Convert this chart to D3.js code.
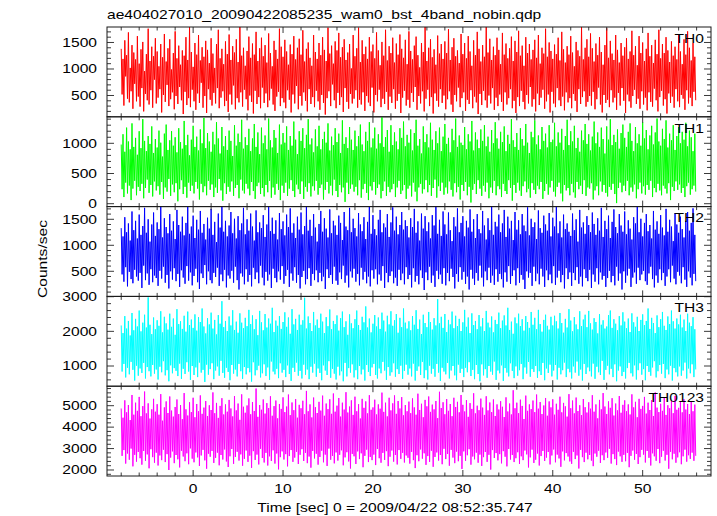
<!DOCTYPE html>
<html><head><meta charset="utf-8">
<script src="https://cdn.jsdelivr.net/npm/d3@7"></script>
<style>body{margin:0;background:#fff}svg{display:block}text{font-family:"Liberation Sans",Arial,sans-serif;fill:#000}</style>
</head><body><svg id="c" width="717" height="516"></svg>
<script>
const title = "ae404027010_20090422085235_wam0_bst_4band_nobin.qdp";
const xLabel = "Time [sec] 0 = 2009/04/22 08:52:35.747";
const yLabel = "Counts/sec";
const tStart = -8, tStep = 0.1;
const xDomain = [-9.58, 57.6];
const xMajorTicks = [0, 10, 20, 30, 40, 50];
const xMinorStep = 2;
const panelNames = ["TH0", "TH1", "TH2", "TH3", "TH0123"];
const panelColors = ["#ff0000", "#00ff00", "#0000ff", "#00ffff", "#ff00ff"];
const yDomains = [[98, 1792], [-48, 1439], [17, 1744], [417, 3009], [1720, 5910]];
const yMajorTicks = [[500, 1000, 1500], [0, 500, 1000], [500, 1000, 1500], [1000, 2000, 3000], [2000, 3000, 4000, 5000]];
const yMinorStep = [100, 100, 100, 200, 200];

const th0 = [
1380,520,1190,310,1540,860,1260,440,1690,370,1020,580,1450,250,1310,720,1180,390,1620,480,
1100,290,1370,640,1510,200,960,530,1280,410,1760,330,1150,600,1420,270,1240,800,1580,350,
1330,460,1050,620,1470,180,1220,510,1660,380,1140,700,1390,300,1560,430,990,560,1300,240,
1710,490,1200,340,1440,660,1080,410,1350,150,1250,570,1600,320,1170,450,1790,280,1320,610,
1040,390,1490,230,1270,540,1640,360,1160,740,1410,270,1230,490,1530,170,1360,620,1110,420,
1580,310,1290,550,1020,350,1470,640,1740,260,1200,460,1380,580,1090,300,1520,400,1280,190,
1650,520,1170,330,1430,690,1310,240,1560,450,1130,370,1800,560,1250,290,1400,610,1060,430,
1340,220,1610,500,1210,380,1480,160,1270,590,1700,340,1150,470,1390,260,1590,650,1240,360,
1450,540,1120,280,1670,410,1300,630,1050,330,1530,210,1360,480,1190,570,1760,300,1420,450,
1230,370,1550,260,1330,600,1080,420,1460,180,1280,520,1620,350,1180,680,1400,240,1570,490,
1270,310,1730,560,1140,400,1380,200,1500,620,1210,340,1060,470,1640,280,1320,590,1190,390,
1490,230,1260,510,1600,360,1360,140,1150,450,1780,580,1290,300,1440,710,1100,410,1520,260,
1350,550,1680,320,1220,470,1410,190,1560,640,1170,380,1310,250,1470,530,1010,350,1640,440,
1240,600,1390,270,1780,420,1130,330,1540,560,1280,210,1420,490,1190,370,1600,300,1330,650,
1460,180,1200,510,1690,390,1350,610,1070,280,1510,440,1250,340,1740,570,1160,230,1430,480,
1300,360,1590,620,1120,250,1480,400,1270,530,1650,170,1380,460,1210,590,1550,310,1090,420,
1710,270,1340,550,1180,380,1440,660,1610,230,1260,490,1030,350,1490,580,1320,200,1800,440,
1150,610,1400,300,1560,470,1220,160,1370,540,1080,400,1630,290,1290,620,1470,360,1190,500,
1520,240,1300,430,1750,580,1170,330,1410,190,1580,510,1240,390,1350,650,1110,280,1660,450,
1280,560,1490,210,1200,420,1620,340,1330,600,1060,260,1540,480,1260,370,1700,150,1380,530,
1140,320,1450,590,1230,410,1800,270,1310,500,1570,350,1170,640,1420,230,1260,460,1590,300,
1360,520,1090,380,1680,210,1270,560,1480,330,1200,450,1390,620,1610,260,1150,400,1530,170,
1320,470,1720,300,1250,590,1440,380,1060,240,1600,510,1300,350,1470,660,1180,290,1360,430,
1550,200,1210,540,1640,320,1100,460,1400,610,1290,250,1760,390,1230,520,1500,180,1340,570,
1190,350,1460,280,1280,640,1590,410,1160,300,1700,480,1370,220,1120,560,1430,370,1270,450,
1620,260,1310,530,1050,400,1510,190,1350,620,1240,340,1790,470,1180,580,1400,290,1560,380,
1230,490,1670,310,1390,570,1140,240,1480,430,1260,650,1600,330,1320,180,1080,510,1450,360,
1770,420,1210,280,1530,600,1290,370,1170,460,1640,230,1360,550,1120,310,1490,640,1250,400,
1410,170,1580,520,1190,390,1330,270,1720,490,1260,610,1430,340,1070,440,1620,250,1300,580,
1500,330,1150,460,1380,220,1680,560,1240,380,1450,290,1110,630,1550,410,1280,200,1740,470,
1200,590,1470,310,1300,430,1600,160,1350,540,1130,360,1520,480,1250,270,1420,620,1180,390,
1650,280,1330,510,1090,440,1560,230,1270,600,1710,350,1400,460,1160,300,1490,570,1230,410];

const th1 = [
980,240,1150,110,860,350,1260,170,1030,300,900,60,1330,250,940,380,1090,140,810,280,
1200,210,920,330,1400,90,1040,260,870,400,1120,180,990,310,1280,120,840,370,1070,220,
930,290,1210,150,1010,360,780,80,1160,270,1310,200,890,410,1050,130,1200,320,960,190,
1100,340,850,40,1250,240,1020,390,910,160,1370,280,970,100,1140,350,800,210,1060,300,
1290,170,940,360,1110,250,880,70,1230,330,1000,190,1420,290,920,140,1170,380,1030,230,
860,320,1190,110,980,270,1350,180,1080,410,830,220,1270,50,950,340,1120,160,890,280,
1210,200,1040,370,790,130,1300,260,960,310,1160,90,1020,400,1390,220,910,170,1100,330,
970,250,1240,140,870,360,1080,210,1320,80,940,290,1180,350,820,160,1260,260,1000,120,
1130,310,900,190,1410,380,1050,100,930,270,1220,150,1090,330,840,230,1310,60,980,300,
1170,180,1010,350,1280,130,890,250,1120,390,960,210,1360,110,1060,320,820,240,1200,160,
1040,370,1250,80,920,280,1140,200,1400,340,980,120,1080,290,850,220,1230,380,950,150,
1290,260,900,320,1070,70,1190,230,1010,360,1330,170,880,300,1110,140,970,400,1250,210,
1020,110,1160,310,840,190,1380,270,990,30,1100,350,920,160,1270,250,1060,320,890,200,
1210,280,950,140,1120,390,1310,100,980,240,870,330,1190,180,1040,60,1350,290,930,220,
1080,360,1260,150,910,260,1150,320,1000,90,1430,210,940,370,1100,130,1220,280,860,190,
1300,240,970,330,1180,110,1030,270,900,380,1250,160,1090,220,1360,310,950,80,1140,250,
1010,300,1230,120,880,350,1170,200,1390,40,960,270,1070,330,830,170,1280,240,1020,390,
1150,190,930,310,1340,130,1060,260,890,400,1200,100,1000,290,1260,210,870,350,1110,150,
1320,270,990,170,1090,370,850,230,1240,120,1050,340,1410,190,940,280,1130,70,1010,310,
970,210,1270,360,900,140,1150,280,1030,20,1370,230,880,330,1180,160,1060,390,920,250,
1230,130,1040,300,1300,200,950,350,1110,90,860,270,1220,180,1000,380,1350,140,1080,290,
910,240,1190,110,1020,330,1280,210,870,160,1140,390,990,260,1400,50,1050,310,940,180,
1170,350,890,220,1250,130,1070,290,960,370,1320,190,1010,250,840,100,1190,340,1100,230,
1380,160,980,300,1130,240,900,360,1270,80,1040,210,1160,330,930,150,1300,270,1020,380,
1060,200,1340,120,950,280,1180,350,1010,170,1240,40,890,310,1120,220,1390,260,970,140,
1200,330,1030,190,1290,100,920,360,1090,240,860,300,1210,160,1050,390,1320,130,990,270,
1150,250,880,340,1110,70,1360,220,1000,290,1180,140,940,370,1260,200,1070,310,830,180,
1280,120,1060,280,1400,230,970,330,1140,160,1020,10,1230,260,910,350,1170,190,1310,300,
1090,210,940,380,1190,140,1330,270,1040,200,870,320,1270,90,1000,240,1150,350,960,170,
1350,290,1080,150,1220,310,900,230,1130,380,1290,110,980,260,1180,190,1410,330,1030,220,
960,140,1240,300,1070,250,1380,170,930,340,1160,60,1050,280,1300,210,890,370,1120,230,
1270,320,1000,180,1190,260,1060,110,1340,290,950,350,1210,150,1100,240,870,300,1160,200];

const th2 = [
1330,440,1170,300,1540,580,1250,210,1420,490,1090,350,1650,270,1290,530,1470,400,1130,320,
1590,470,1200,180,1370,610,1720,330,1240,460,1500,240,1070,540,1400,290,1630,420,1180,370,
1440,220,1310,510,1744,360,1150,590,1520,280,1350,430,1230,170,1600,500,1280,340,1460,560,
1120,310,1680,450,1390,200,1260,520,1550,380,1190,260,1430,600,1740,320,1220,480,1360,230,
1570,410,1140,550,1490,290,1300,160,1660,460,1240,370,1410,620,1110,250,1530,500,1320,330,
1700,270,1200,470,1450,390,1060,570,1610,220,1340,440,1744,310,1260,530,1470,190,1170,420,
1380,360,1640,510,1230,280,1510,590,1130,330,1560,150,1290,460,1420,400,1720,250,1210,540,
1500,300,1280,430,1610,210,1360,570,1090,350,1670,480,1250,270,1440,610,1330,380,1580,230,
1160,490,1400,320,1744,440,1270,180,1530,550,1220,370,1480,290,1110,500,1620,340,1310,600,
1460,260,1190,410,1590,530,1350,200,1710,460,1240,320,1420,580,1140,280,1550,430,1300,170,
1630,390,1210,510,1370,250,1744,350,1280,560,1490,220,1180,450,1600,330,1340,520,1070,290,
1410,470,1660,310,1260,400,1520,160,1320,540,1150,370,1690,430,1230,260,1470,590,1380,320,
1200,240,1570,480,1430,350,1100,610,1640,280,1360,420,1290,190,1720,500,1250,380,1510,550,
1330,300,1170,450,1620,230,1400,570,1270,340,1540,490,1120,270,1450,400,1744,210,1220,520,
1580,360,1310,540,1190,250,1490,440,1680,320,1250,600,1420,180,1340,470,1600,290,1160,410,
1440,500,1730,270,1280,380,1550,220,1210,530,1390,330,1640,460,1300,250,1480,580,1370,350,
1150,430,1520,190,1350,560,1700,300,1240,410,1460,250,1090,520,1610,370,1320,140,1560,480,
1270,330,1440,590,1130,280,1580,420,1380,200,1744,510,1220,350,1490,440,1180,260,1650,560,
1400,230,1210,470,1630,310,1290,550,1080,390,1540,170,1360,450,1710,300,1250,580,1430,340,
1560,490,1170,260,1470,400,1340,150,1690,530,1260,360,1500,240,1140,470,1600,320,1310,610,
1230,380,1660,210,1380,500,1110,330,1520,570,1290,280,1744,420,1200,240,1450,540,1360,300,
1590,450,1250,350,1420,190,1680,480,1160,300,1550,600,1320,260,1470,410,1100,520,1640,230,
1300,560,1480,280,1210,430,1600,340,1380,160,1270,500,1730,380,1190,470,1510,220,1350,590,
1440,310,1120,460,1670,250,1330,550,1240,400,1570,200,1400,520,1280,330,1620,440,1170,270,
1530,600,1360,240,1744,380,1230,510,1460,290,1150,430,1590,170,1310,560,1420,350,1260,480,
1180,220,1610,470,1290,330,1500,580,1070,260,1680,400,1340,210,1440,540,1220,370,1560,310,
1390,530,1250,180,1630,440,1410,300,1200,560,1520,250,1280,480,1720,340,1160,410,1470,200,
1310,370,1570,510,1140,290,1450,410,1690,230,1350,590,1230,320,1600,460,1380,150,1260,500,
1650,280,1210,420,1480,550,1320,200,1110,380,1540,480,1420,260,1744,570,1250,330,1510,440,
1170,510,1430,310,1600,240,1270,460,1390,590,1130,350,1660,190,1300,420,1460,280,1220,540,
1580,330,1340,470,1190,220,1700,400,1260,540,1490,290,1360,610,1080,360,1620,250,1400,490,
1240,420,1550,270,1310,580,1150,340,1470,200,1640,500,1280,380,1430,230,1710,450,1200,310];

const th3 = [
2170,840,1950,1060,2440,670,2080,950,2300,760,1880,1120,2530,890,2030,580,2360,1010,2140,720,
2600,930,2000,800,2250,1090,2480,640,2110,970,2980,850,2190,700,1920,1030,2400,780,2060,900,
2320,610,2160,980,2580,820,1970,1140,2420,730,2230,880,2050,560,2510,1020,2130,790,2370,940,
1900,860,2640,710,2210,1070,2290,630,2070,920,2450,770,1990,1110,2570,840,2180,600,2340,1000,
2100,740,2490,960,2020,680,2410,1100,2270,810,2660,890,2140,540,1940,1040,2380,750,2200,910,
2540,1080,2080,620,2330,870,1910,990,2470,720,2220,1150,2870,800,2120,660,2300,950,2010,830,
2430,590,2170,1030,2610,780,2040,900,2280,700,1960,1060,2520,850,2250,630,2090,970,2390,760,
2150,940,2620,820,2210,550,2460,1110,2060,730,2350,880,1890,1010,2590,670,2260,790,2030,1050,
2500,710,2110,960,2370,600,2220,1130,2680,840,1980,760,2310,920,2160,650,2440,1080,2070,810,
2270,890,2550,680,2130,1020,2400,770,1930,570,2640,950,2200,830,2360,1100,2040,720,2480,860,
2190,640,2320,1040,2970,750,2080,900,2430,620,2240,980,2010,810,2560,1070,2170,690,2340,930,
2100,800,2510,590,2280,1020,1950,870,2410,740,2150,1140,2630,660,2060,920,2300,780,2210,610,
2460,980,2020,730,2380,850,2570,560,2120,1090,2290,700,1900,940,2490,810,2230,1050,2090,670,
2350,880,2600,620,2180,1000,2040,760,2420,900,2260,580,2720,1030,2110,830,2370,710,1970,960,
2220,1060,2470,740,2140,640,2400,930,2070,790,2540,1120,2310,870,1990,600,2450,970,2200,720,
2580,820,2160,1080,2320,690,2500,910,1960,770,2390,1010,2120,630,2660,860,2250,1040,2080,750,
2290,930,2030,700,2440,1070,2190,580,2610,860,2070,990,2340,740,1920,1120,2480,650,2240,880,
2120,610,2560,1010,2270,780,2050,920,2380,690,2170,1060,2930,810,2230,570,2420,950,2100,840,
2500,760,1980,1090,2330,640,2200,870,2570,1000,2090,730,2450,590,2150,1040,2360,800,2010,920,
2260,680,2620,950,2130,820,2400,1110,1950,710,2520,890,2180,620,2300,1030,2060,770,2470,560,
2140,1050,2380,730,2010,910,2590,660,2250,1000,2110,840,2430,750,1970,1130,2330,600,2210,870,
2540,790,2090,1020,2310,570,2460,940,2170,810,2680,700,2040,1080,2280,860,1930,650,2400,990,
2230,720,2510,880,2150,1060,2350,620,2020,960,2440,780,2270,1120,2100,690,2560,910,2190,830,
2390,1000,2060,660,2620,850,2210,740,1990,1090,2330,590,2480,930,2160,800,2050,1040,2420,700,
2170,870,2450,1030,2290,610,2080,950,2530,760,2240,880,1960,1100,2360,680,2110,920,2640,820,
2310,640,2000,990,2410,810,2200,1130,2060,720,2580,900,2150,580,2340,1060,2480,770,2120,960,
2590,850,2230,700,2050,1070,2380,630,2270,980,1940,820,2500,740,2190,1150,2320,600,2080,890,
2140,1010,2470,760,2600,920,2100,680,2350,1050,2220,560,2030,870,2440,990,2170,710,2550,830,
2280,640,2090,940,2370,1090,1980,790,2520,700,2260,1020,2130,610,2420,880,2010,1080,2330,750,
2490,910,2180,590,2300,1000,2660,830,2070,720,2390,960,2240,1140,1950,670,2460,850,2120,1030,
2350,780,2560,1060,2160,650,2040,900,2430,760,2210,1010,2600,580,2290,940,2080,820,2370,700,
2200,990,2480,720,2110,870,2340,1100,2010,640,2510,930,2250,790,2150,1050,2410,680,2060,900];

const th0123 = [
4870,2660,4440,2930,5250,2300,4690,2770,5030,2480,4330,3000,5500,2170,4580,2710,5140,2390,4760,2840,
5410,2550,4510,2250,4980,2890,5660,2430,4640,2730,5110,2080,4400,2970,4830,2600,5320,2340,4720,2810,
5070,2210,4580,2680,5540,2460,4300,2950,4920,2370,5200,2740,4660,2000,5430,2580,4770,2870,4490,2320,
4940,2700,5290,2500,4610,2120,5030,2900,4370,2630,5590,2410,4830,2780,4540,2270,5160,3010,4700,2530,
5370,2360,4460,2820,5080,2590,4740,2190,5480,2680,4620,2940,4910,2450,5220,2060,4520,2760,5020,2620,
4800,2890,5620,2330,4650,2570,5130,2810,4430,2220,4990,2700,5350,2490,4590,2960,5060,2400,4720,2140,
5270,2640,4870,2980,4500,2290,5450,2610,4780,2850,5100,2440,4340,2730,5530,2200,4950,2520,4670,2910,
5010,2380,5340,2670,4600,2100,5170,2880,4750,2470,5800,2720,4480,2260,5030,2990,4810,2560,5290,2350,
4630,2800,5120,2210,4890,2640,5440,2420,4530,2920,4980,2300,5240,2770,4410,2030,5080,2600,4850,2870,
5390,2490,4700,2740,4960,2170,5520,2650,4560,2930,5150,2380,4790,2580,5310,2850,4440,2280,5040,2710,
4880,2970,5230,2420,4600,2800,5690,2320,4740,2630,5060,2110,4450,2890,5380,2540,4930,2760,4660,2250,
5180,2610,4770,2900,5470,2360,4530,2720,5100,2190,4840,3000,5300,2480,4620,2660,5570,2310,4720,2820,
5000,2440,5360,2710,4490,2920,5140,2220,4820,2590,5630,2830,4680,2400,4960,2070,5250,2750,4570,2640,
5420,2280,4740,2870,5070,2510,4400,2780,5320,2130,4900,2660,5200,2950,4640,2370,5490,2610,4810,2460,
4920,2720,5280,2230,4590,2980,5060,2550,4860,2340,5610,2800,4710,2470,5140,2880,4500,2180,5370,2620,
4780,2910,5110,2390,5480,2700,4620,2260,5220,2930,4870,2520,5400,2800,4550,2350,5030,2680,4740,2570,
5190,2300,4650,2850,5340,2460,4920,2090,4580,2690,5560,2410,4800,2960,5090,2530,4460,2780,5270,2240,
4970,2650,5430,2380,4710,2900,5050,2150,4830,2610,5220,2820,4420,2440,5650,2700,4890,2270,5160,2990,
4600,2510,5310,2750,4760,2200,5080,2940,4510,2580,5370,2320,4940,2860,5180,2410,4690,2660,5500,2050,
5040,2870,4730,2430,5260,2690,4480,2970,5120,2250,4850,2630,5580,2500,4640,2810,5000,2340,4790,2720,
5330,2190,4910,2600,4570,2840,5440,2380,4780,2710,5150,2020,4700,2930,5290,2560,4520,2790,5060,2450,
4820,2740,5210,2310,4950,2880,4470,2620,5390,2170,4730,2980,5100,2490,4590,2700,5720,2370,4880,2550,
5140,2830,4650,2280,5280,2640,4990,2460,4380,2910,5470,2730,4760,2120,5060,2590,4840,2950,5240,2330,
4700,2480,5520,2770,4860,2210,5170,2650,4610,2890,5010,2420,5360,2580,4530,2840,5200,2260,4920,2680,
5300,2960,4580,2360,5090,2720,4810,2540,5420,2150,4690,2870,5130,2450,4970,2790,4490,2630,5540,2400,
4880,2290,5240,2850,4640,2510,5380,2680,4750,2070,5020,2940,4560,2600,5310,2370,4930,2810,4680,2500,
5160,2700,4860,2440,5490,2180,4720,2770,5060,2620,4410,2900,5270,2330,4830,2690,5590,2460,4960,2820,
4610,2570,5200,2990,4900,2300,5350,2740,4540,2510,5100,2230,4780,2860,5450,2640,4670,2380,5040,2710,
5250,2410,4740,2800,5060,2130,4590,2660,5530,2910,4920,2480,5180,2750,4460,2280,5320,2600,4850,2940,
4990,2720,5410,2350,4630,2890,5140,2570,4800,2210,5260,2780,4520,2640,5620,2430,4910,2980,4700,2320,
5090,2620,4760,2900,5370,2440,4570,2710,5020,2060,4880,2850,5230,2500,4650,2760,5460,2340,4810,2590,
4900,2830,5170,2270,4690,2640,5300,2950,4820,2390,5080,2690,4610,2520,5200,2810,4740,2430,5050,2660];

const series = [th0, th1, th2, th3, th0123];

// ---- layout ----
const L = 107, R = 711, T = 27, B = 476;
const ph = (B - T) / 5;
const svg = d3.select("#c");
const x = d3.scaleLinear().domain(xDomain).range([L, R]);
const FS = 12, SX = 1.3;

function label(parent, px, py, str, anchor, rot) {
  parent.append("text")
    .attr("transform", `translate(${px},${py})` + (rot ? ` rotate(${rot})` : "") + ` scale(${SX},1)`)
    .attr("text-anchor", anchor)
    .style("font-size", FS + "px")
    .text(str);
}

const defs = svg.append("defs");
const xMinor = d3.range(Math.ceil(xDomain[0] / xMinorStep) * xMinorStep, xDomain[1], xMinorStep);

series.forEach((vals, i) => {
  const top = T + i * ph, bot = top + ph;
  const y = d3.scaleLinear().domain(yDomains[i]).range([bot, top]);
  defs.append("clipPath").attr("id", "clip" + i)
    .append("rect").attr("x", L).attr("y", top).attr("width", R - L).attr("height", ph);
  const line = d3.line().x((d, j) => x(tStart + j * tStep)).y(d => y(d));
  svg.append("path").datum(vals)
    .attr("clip-path", `url(#clip${i})`)
    .attr("fill", "none").attr("stroke", panelColors[i]).attr("stroke-width", 1)
    .attr("stroke-linejoin", "miter").attr("stroke-miterlimit", 2)
    .attr("d", line);

  const tg = svg.append("g").attr("stroke", "#3a3a3a").attr("stroke-width", 1);
  xMinor.forEach(t => {
    const major = xMajorTicks.includes(t);
    const len = major ? 6 : 3.5;
    tg.append("line").attr("x1", x(t)).attr("x2", x(t)).attr("y1", bot).attr("y2", bot - len);
    tg.append("line").attr("x1", x(t)).attr("x2", x(t)).attr("y1", top).attr("y2", top + len);
  });
  const yd = yDomains[i];
  const yMinor = d3.range(Math.ceil(yd[0] / yMinorStep[i]) * yMinorStep[i], yd[1], yMinorStep[i]);
  yMinor.forEach(v => {
    const major = yMajorTicks[i].includes(v);
    const len = major ? 7 : 4;
    tg.append("line").attr("x1", L).attr("x2", L + len).attr("y1", y(v)).attr("y2", y(v));
    tg.append("line").attr("x1", R).attr("x2", R - len).attr("y1", y(v)).attr("y2", y(v));
  });
  svg.append("rect").attr("x", L).attr("y", top).attr("width", R - L).attr("height", ph)
    .attr("fill", "none").attr("stroke", "#1a1a1a").attr("stroke-width", 1);

  yMajorTicks[i].forEach(v => label(svg, 97, y(v) + 4.3, String(v), "end"));
  label(svg, 704, top + 15.7, panelNames[i], "end");
});

xMajorTicks.forEach(t => label(svg, x(t), 492.5, String(t), "middle"));
label(svg, 395, 511.5, xLabel, "middle");
label(svg, 47, 259, yLabel, "middle", -90);
label(svg, 107, 19.3, title, "start");
</script>
</body></html>
